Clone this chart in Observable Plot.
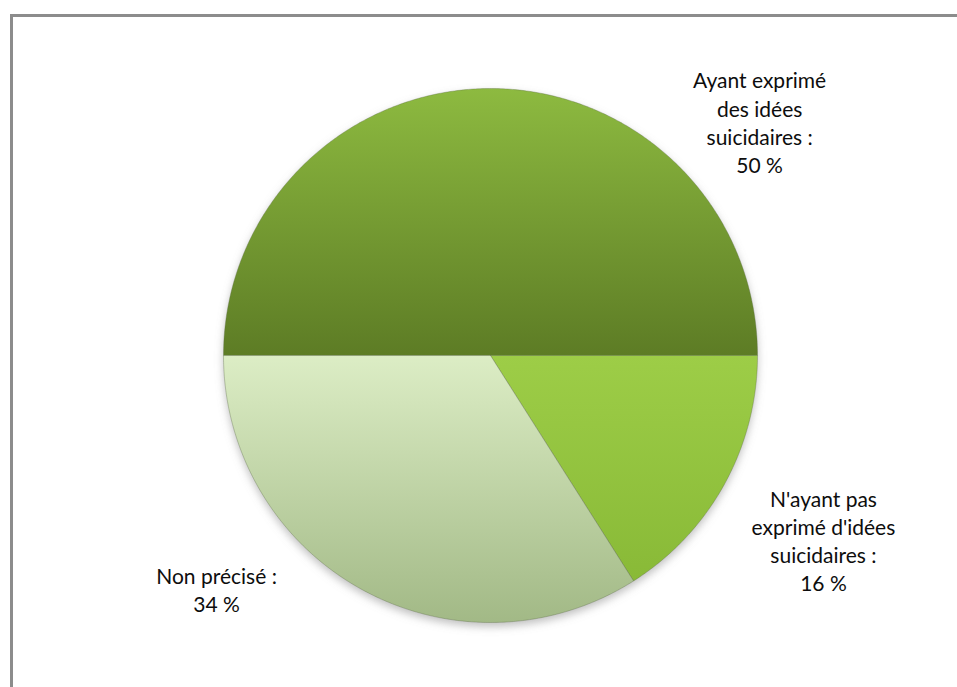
<!DOCTYPE html>
<html>
<head>
<meta charset="utf-8">
<script src="https://cdn.jsdelivr.net/npm/d3@7"></script>
<script src="https://cdn.jsdelivr.net/npm/@observablehq/plot@0.6"></script>
<style>
  html, body { margin: 0; padding: 0; background: #fff; }
  #wrap { position: relative; width: 957px; height: 687px; overflow: hidden; }
  #frame { position: absolute; left: 10px; top: 14px; width: 1200px; height: 1200px;
           border-left: 3px solid #8c8c8c; border-top: 3px solid #8c8c8c; pointer-events: none; }
  #wrap svg { position: absolute; left: 0; top: 0; }
</style>
</head>
<body>
<div id="wrap"><div id="frame"></div></div>
<script>
// Categories and their shares (%)
const categories = [
  "Ayant exprimé des idées suicidaires",
  "N'ayant pas exprimé d'idées suicidaires",
  "Non précisé"
];
const shares = [50, 16, 34];
const labelTexts = [
  "Ayant exprimé\ndes idées\nsuicidaires :",
  "N'ayant pas\nexprimé d'idées\nsuicidaires :",
  "Non précisé :"
];

// Label anchors, in units of the pie radius (centre = 0,0)
const labelSpots = [[1.008, 0.876], [1.247, -0.690], [-1.026, -0.875]];

// Gradient stops for each slice: [top colour, bottom colour]
const sliceColors = [["#8dba40", "#5d7c25"], ["#9dcd47", "#85b634"], ["#dcedc5", "#a2b986"]];

// Slice angles: start at 9 o'clock, go clockwise
const arcs = d3.pie().sort(null).startAngle(-Math.PI / 2).endAngle(1.5 * Math.PI)(shares);

function slicePolygon(a) {
  const n = Math.max(2, Math.ceil((a.endAngle - a.startAngle) / (Math.PI / 360)));
  const pts = [{x: 0, y: 0}];
  for (let k = 0; k <= n; k++) {
    const t = a.startAngle + (a.endAngle - a.startAngle) * k / n;
    pts.push({x: Math.sin(t), y: Math.cos(t)});
  }
  pts.push({x: 0, y: 0});
  return pts;
}
const slices = arcs.map(slicePolygon);
const disc = d3.range(0, 721).map(k => ({x: Math.sin(k * Math.PI / 360), y: Math.cos(k * Math.PI / 360)}));

const labels = categories.map((c, i) => ({
  category: c,
  text: `${labelTexts[i]}\n${shares[i]} %`,
  x: labelSpots[i][0],
  y: labelSpots[i][1]
}));

const chart = Plot.plot({
  width: 957,
  height: 687,
  margin: 0,
  x: {domain: [-1, 1], range: [223, 757], axis: null},
  y: {domain: [-1, 1], range: [622, 88], axis: null},
  marks: [
    // soft shadow under the pie
    Plot.line(disc, {x: "x", y: "y", fill: "#8a8a8a", fillOpacity: 0.55, stroke: "none", dy: 4}),
    ...slices.map((pts, i) => Plot.line(pts, {
      x: "x", y: "y",
      fill: `url(#slice-grad-${i})`,
      stroke: "#5d6e45", strokeOpacity: 0.35, strokeWidth: 1, strokeLinejoin: "round"
    })),
    Plot.text(labels, {
      x: "x", y: "y", text: "text",
      fontFamily: "Lato, 'Open Sans', sans-serif",
      fontSize: 21, lineHeight: 1.34, fill: "#0d0d0d", textAnchor: "middle"
    })
  ]
});

// gradients and shadow blur, placed in the chart's own coordinates
const ys = chart.scale("y");
const defs = d3.create("svg:defs");
sliceColors.forEach(([c0, c1], i) => {
  const top = i === 0 ? ys.apply(1) : ys.apply(0);
  const bottom = i === 0 ? ys.apply(0) : ys.apply(-1);
  const g = defs.append("linearGradient")
    .attr("id", `slice-grad-${i}`)
    .attr("gradientUnits", "userSpaceOnUse")
    .attr("x1", 0).attr("x2", 0).attr("y1", top).attr("y2", bottom);
  g.append("stop").attr("offset", 0).attr("stop-color", c0);
  g.append("stop").attr("offset", 1).attr("stop-color", c1);
});
defs.append("filter").attr("id", "pie-shadow").attr("x", "-10%").attr("y", "-10%").attr("width", "120%").attr("height", "120%")
  .append("feGaussianBlur").attr("stdDeviation", 4);
chart.insertBefore(defs.node(), chart.firstChild);
const lineGroups = chart.querySelectorAll("g[aria-label='line']");
if (lineGroups.length) lineGroups[0].setAttribute("filter", "url(#pie-shadow)");

document.getElementById("wrap").insertBefore(chart, document.getElementById("frame"));
</script>
</body>
</html>
